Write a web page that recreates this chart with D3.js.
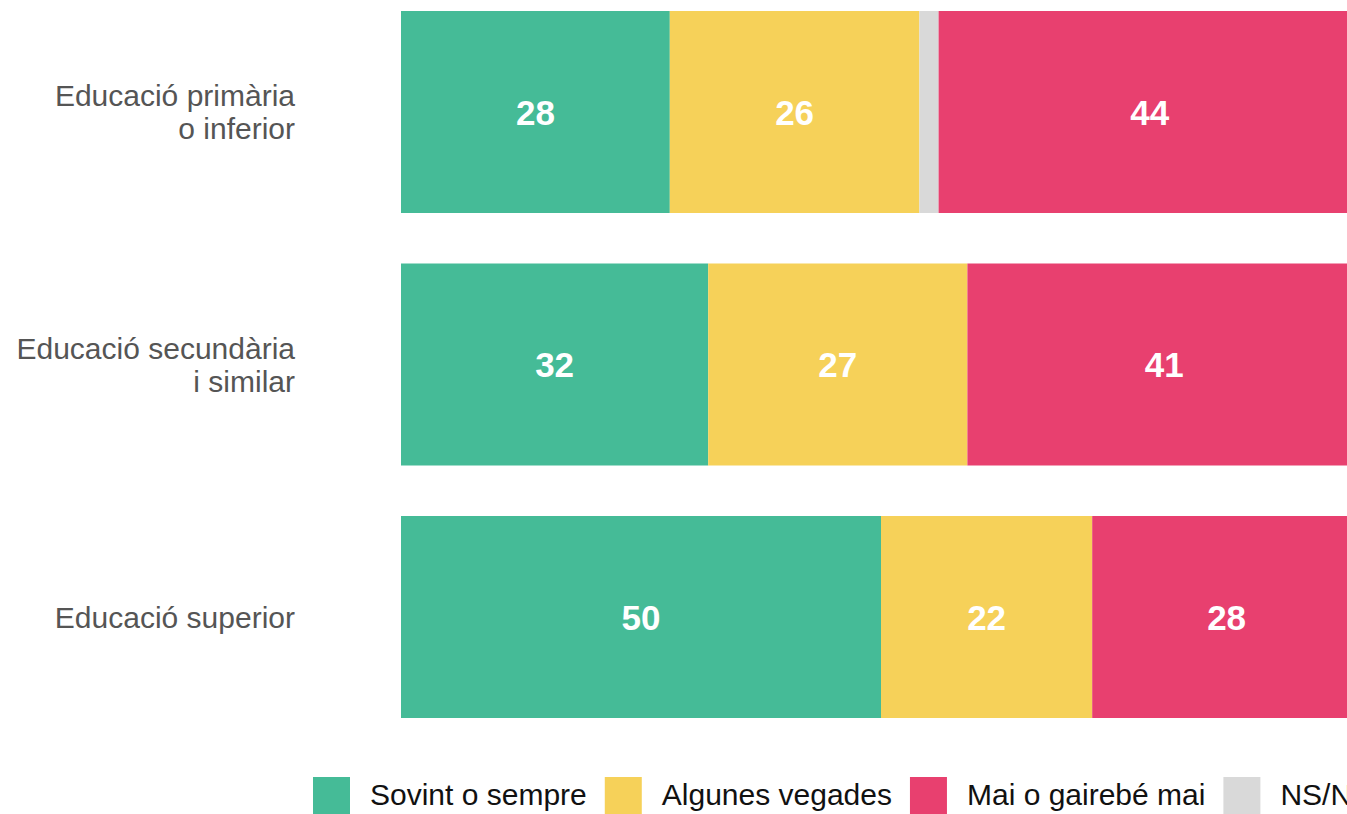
<!DOCTYPE html>
<html>
<head>
<meta charset="utf-8">
<script src="https://cdn.jsdelivr.net/npm/d3@7"></script>
<style>
  html, body { margin: 0; padding: 0; background: #fff; overflow: hidden; }
  svg { display: block; font-family: "Liberation Sans", Arial, sans-serif; }
</style>
</head>
<body>
<svg id="chart" width="1347" height="814"></svg>
<script>
// Data
const categories = ["Educació primària\no inferior", "Educació secundària\ni similar", "Educació superior"];
const seriesNames = ["Sovint o sempre", "Algunes vegades", "NS/NC", "Mai o gairebé mai"];
const sovint = [28, 32, 50];
const algunes = [26, 27, 22];
const nsnc = [2, 0, 0];
const mai = [44, 41, 28];
const legendOrder = ["Sovint o sempre", "Algunes vegades", "Mai o gairebé mai", "NS/NC"];
const colors = {
  "Sovint o sempre": "#45bb97",
  "Algunes vegades": "#f6d159",
  "NS/NC": "#d9d9d9",
  "Mai o gairebé mai": "#e8406f"
};

const seriesValues = [sovint, algunes, nsnc, mai];
const rows = categories.map((c, i) => {
  const o = { cat: c };
  seriesNames.forEach((s, j) => o[s] = seriesValues[j][i]);
  return o;
});

const svg = d3.select("#chart");
const x = d3.scaleLinear().domain([0, 100]).range([401, 1361]);
const y = d3.scaleBand().domain(categories).range([11, 718]).paddingInner(0.2).paddingOuter(0);

const stack = d3.stack().keys(seriesNames)(rows);

const g = svg.append("g");
stack.forEach(layer => {
  const key = layer.key;
  const lg = g.append("g");
  lg.selectAll("rect").data(layer).join("rect")
    .attr("x", d => x(d[0]))
    .attr("y", d => y(d.data.cat))
    .attr("width", d => Math.max(0, x(d[1]) - x(d[0])))
    .attr("height", y.bandwidth())
    .attr("fill", colors[key]);
  if (key !== "NS/NC") {
    lg.selectAll("text").data(layer.filter(d => d[1] - d[0] >= 5)).join("text")
      .attr("x", d => (x(d[0]) + x(d[1])) / 2)
      .attr("y", d => y(d.data.cat) + y.bandwidth() / 2 + 12.5)
      .attr("text-anchor", "middle")
      .attr("fill", "#fff")
      .attr("font-weight", "bold")
      .attr("font-size", 35)
      .text(d => d[1] - d[0]);
  }
});

// Category labels
const lineH = 33;
categories.forEach(c => {
  const lines = c.split("\n");
  const cy = y(c) + y.bandwidth() / 2;
  const t = svg.append("text")
    .attr("text-anchor", "end")
    .attr("fill", "#555555")
    .attr("font-size", 30);
  lines.forEach((ln, i) => {
    const off = (i - (lines.length - 1) / 2) * lineH;
    t.append("tspan")
      .attr("x", 295)
      .attr("y", cy + off + 10.7)
      .text(ln);
  });
});

// Legend
const legend = svg.append("g");
let lx = 313;
legendOrder.forEach(name => {
  legend.append("rect")
    .attr("x", lx).attr("y", 777)
    .attr("width", 37).attr("height", 37)
    .attr("fill", colors[name]);
  const t = legend.append("text")
    .attr("x", lx + 57).attr("y", 805)
    .attr("font-size", 30)
    .attr("fill", "#111")
    .text(name);
  lx = lx + 57 + t.node().getComputedTextLength() + 18;
});
</script>
</body>
</html>
